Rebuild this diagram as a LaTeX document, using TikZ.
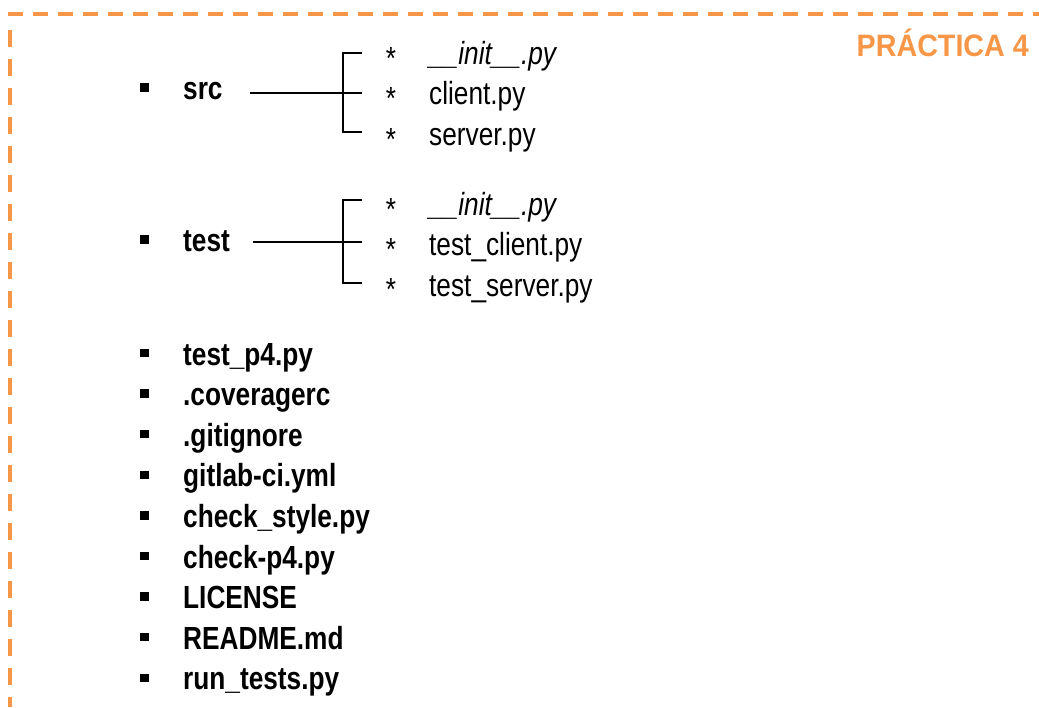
\documentclass[tikz,border=0pt]{standalone}
\usepackage{fontspec}
\setmainfont{Liberation Sans}[FakeStretch=0.82]
\newfontfamily\titlefont{Liberation Sans}[FakeStretch=0.925]
\definecolor{accent}{HTML}{F79646}
\begin{document}
\begin{tikzpicture}[x=1pt,y=-1pt,
  frame/.style={draw=accent,line width=4.5pt},
  entry/.style={anchor=base west,inner sep=0pt,font=\fontsize{32}{38}\selectfont\bfseries},
  leaf/.style={anchor=base west,inner sep=0pt,font=\fontsize{32}{38}\selectfont},
  star/.style={anchor=base,inner sep=0pt,font=\fontsize{32}{38}\selectfont},
  bullet/.style={fill=black,minimum size=8.5pt,inner sep=0pt},
  branch/.style={draw=black,line width=1.6pt}]
\useasboundingbox (0,0) rectangle (1039,707);

% dashed page frame
\draw[frame,dash pattern=on 15pt off 10pt] (8,14) -- (1039,14);
\draw[frame,dash pattern=on 17pt off 12pt] (10,30) -- (10,707);

% title
\node[anchor=base east,inner sep=0pt,text=accent,font=\fontsize{31}{36}\selectfont\titlefont\bfseries]
  (title) at (1029,56) {PRÁCTICA 4};

% top-level entries
\foreach \name/\txt/\y in {
  src/src/99.5, test/test/251.5,
  e1/test\_p4.py/365, e2/.coveragerc/405.6, e3/.gitignore/446.2,
  e4/gitlab-ci.yml/486.8, e5/check\_style.py/527.4, e6/check-p4.py/568,
  e7/LICENSE/608.6, e8/README.md/649.2, e9/run\_tests.py/689.8}{
  \node[bullet] (b-\name) at (144.5,\y-12) {};
  \node[entry] (\name) at (183,\y) {\txt};
}

% children of src
\node[star] (s1) at (391,69) {*};
\node[leaf] (src-init) at (429,64) {\itshape\_\_init\_\_.py};
\node[star] (s2) at (391,109) {*};
\node[leaf] (src-client) at (429,104.5) {client.py};
\node[star] (s3) at (391,150) {*};
\node[leaf] (src-server) at (429,145) {server.py};

% children of test
\node[star] (t1) at (391,220) {*};
\node[leaf] (test-init) at (429,215) {\itshape\_\_init\_\_.py};
\node[star] (t2) at (391,260) {*};
\node[leaf] (test-client) at (429,255.5) {test\_client.py};
\node[star] (t3) at (391,300) {*};
\node[leaf] (test-server) at (429,296) {test\_server.py};

% brackets joining each folder to its files
\coordinate (src-a) at (250,93);
\coordinate (src-j) at (343,93);
\coordinate (src-m) at (362,93);
\coordinate (src-t) at (362,53);
\coordinate (src-b) at (362,132);
\draw[branch] (src-a) -- (src-m);
\draw[branch] (src-t) -- (src-j |- src-t) -- (src-j |- src-b) -- (src-b);

\coordinate (test-a) at (253,242);
\coordinate (test-j) at (343,242);
\coordinate (test-m) at (362,242);
\coordinate (test-t) at (362,200);
\coordinate (test-b) at (362,283);
\draw[branch] (test-a) -- (test-m);
\draw[branch] (test-t) -- (test-j |- test-t) -- (test-j |- test-b) -- (test-b);
\end{tikzpicture}
\end{document}
